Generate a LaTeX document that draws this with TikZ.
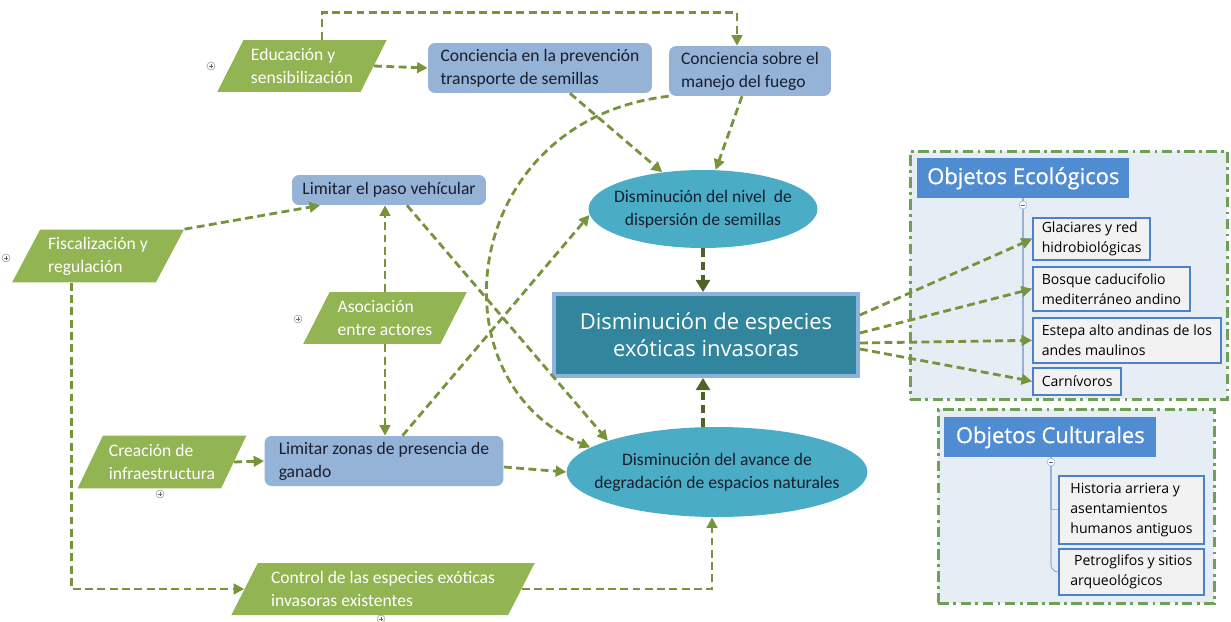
\documentclass[tikz,border=0pt]{standalone}
\usepackage{fontspec}
\setmainfont{Carlito}
\newfontfamily\opensans{Open Sans}
\newfontfamily\opensansheavy[FakeBold=0.8]{Open Sans}
\usetikzlibrary{shapes.geometric,arrows.meta,positioning,calc}

\definecolor{actgreen}{RGB}{146,180,82}
\definecolor{goalblue}{RGB}{149,179,215}
\definecolor{effteal}{RGB}{75,172,198}
\definecolor{maincol}{RGB}{49,133,156}
\definecolor{mainedge}{RGB}{142,178,222}
\definecolor{arrgreen}{RGB}{119,147,60}
\definecolor{arrdark}{RGB}{79,98,40}
\definecolor{panelfill}{RGB}{231,237,245}
\definecolor{paneledge}{RGB}{110,160,85}
\definecolor{titleblue}{RGB}{80,140,210}
\definecolor{objedge}{RGB}{75,130,200}
\definecolor{objfill}{RGB}{242,242,242}
\definecolor{treeline}{RGB}{150,178,215}
\definecolor{inktext}{RGB}{25,30,45}

% one centred line that does not widen the oval
\newcommand{\ovaltext}[1]{\makebox[0pt]{#1}}

\begin{document}
\begin{tikzpicture}[
        x=0.02cm, y=-0.02cm,
        action/.style={trapezium, trapezium left angle=60, trapezium right angle=120, trapezium stretches=true, fill=actgreen, text=white, align=left, inner sep=2pt, font=\fontsize{10}{13}\selectfont},
        goal/.style={rectangle, rounded corners=4pt, fill=goalblue, text=inktext, align=left, font=\fontsize{10}{13}\selectfont},
        effect/.style={ellipse, fill=effteal, text=inktext, align=center, inner sep=0pt, font=\fontsize{10}{13}\selectfont},
        target/.style={rectangle, fill=maincol, draw=mainedge, line width=2.2pt, text=white, align=center, font=\opensans\fontsize{12.5}{15.5}\selectfont},
        panel/.style={rectangle, fill=panelfill, draw=paneledge, line width=1.6pt, dash pattern=on 6pt off 2.5pt on 1.6pt off 2.5pt, anchor=north west},
        objtitle/.style={rectangle, fill=titleblue, text=white, anchor=north west, font=\opensansheavy\fontsize{12.5}{15}\selectfont},
        objbox/.style={rectangle, fill=objfill, draw=objedge, line width=1.1pt, anchor=north west, align=left, inner xsep=5pt, inner ysep=1.5pt, font=\opensans\fontsize{8}{11.3}\selectfont},
        toggle/.style={circle, draw=black!40, fill=white, line width=0.3pt, minimum size=4.5pt, inner sep=0pt},
        expander/.style={toggle, path picture={\draw[black!60, line width=0.3pt] ([xshift=-1.3pt]path picture bounding box.center) -- ([xshift=1.3pt]path picture bounding box.center) ([yshift=-1.3pt]path picture bounding box.center) -- ([yshift=1.3pt]path picture bounding box.center);}},
        collapser/.style={toggle, draw=treeline, path picture={\draw[black!60, line width=0.3pt] ([xshift=-1.3pt]path picture bounding box.center) -- ([xshift=1.3pt]path picture bounding box.center);}},
        tree/.style={draw=treeline, line width=0.6pt},
        arrow/.style={-{Triangle[length=6pt,width=6pt]}, draw=arrgreen, line width=1.6pt, dash pattern=on 4.5pt off 2.5pt},
        darrow/.style={-{Triangle[length=7pt,width=8pt]}, draw=arrdark, line width=2.6pt, dash pattern=on 5pt off 2.5pt}
    ]
        \useasboundingbox (0,0) rectangle (1231,622);

        % Actions
        \node[action, minimum width=3.4cm, minimum height=1.04cm] (edu) at (302,66) {Educación y\\sensibilización};
        \node[action, minimum width=3.46cm, minimum height=1.06cm] (fisc) at (98,256) {Fiscalización y\\regulación};
        \node[action, minimum width=3.3cm, minimum height=1.04cm] (asoc) at (385,318) {Asociación\\entre actores};
        \node[action, minimum width=3.4cm, minimum height=1.06cm] (crea) at (162,462) {Creación de\\infraestructura};
        \node[action, minimum width=6.08cm, minimum height=1.04cm] (ctrl) at (383,589) {Control de las especies exóticas\\invasoras existentes};

        \node[expander] (edumark) at (211,66) {};
        \node[expander] (fiscmark) at (6,258) {};
        \node[expander] (asocmark) at (298,319) {};
        \node[expander] (creamark) at (160,494) {};
        \node[expander] (ctrlmark) at (381,619) {};

        % Goals
        \node[goal, minimum width=4.48cm, minimum height=1cm] (prev) at (540,68) {Conciencia en la prevención\\transporte de semillas};
        \node[goal, minimum width=3.24cm, minimum height=0.96cm] (fuego) at (750,71) {Conciencia sobre el\\manejo del fuego};
        \node[goal, minimum width=3.88cm, minimum height=0.6cm] (paso) at (389,190) {Limitar el paso vehícular};
        \node[goal, minimum width=4.78cm, minimum height=1cm] (zonas) at (384,461) {Limitar zonas de presencia de\\ganado};

        % Effects
        \node[effect, minimum width=4.58cm, minimum height=1.56cm] (disp) at (703,209) {\ovaltext{Disminución del nivel~ de}\\\ovaltext{dispersión de semillas}};
        \node[effect, minimum width=6.02cm, minimum height=1.8cm] (deg) at (717,472) {\ovaltext{Disminución del avance de}\\\ovaltext{degradación de espacios naturales}};
        \node[target, minimum width=6.08cm, minimum height=1.64cm] (main) at (706,335) {Disminución de especies\\exóticas invasoras};

        % Objects
        \node[panel, minimum width=6.34cm, minimum height=4.96cm] (ecopanel) at (909,150) {};
        \node[panel, minimum width=5.52cm, minimum height=3.88cm] (culpanel) at (937,408) {};

        \node[objtitle, minimum width=4.24cm, minimum height=0.8cm] (ecotitle) at (917,158) {Objetos Ecológicos};
        \node[objtitle, minimum width=4.24cm, minimum height=0.8cm] (cultitle) at (944,417) {Objetos Culturales};

        \node[objbox, minimum height=0.84cm] (glac) at (1032,217) {Glaciares y red\\hidrobiológicas};
        \node[objbox, minimum height=0.88cm, below=0.1cm of glac.south west, anchor=north west] (bosq) {Bosque caducifolio\\mediterráneo andino};
        \node[objbox, minimum height=0.9cm, below=0.1cm of bosq.south west, anchor=north west] (este) {Estepa alto andinas de los\\andes maulinos};
        \node[objbox, minimum height=0.54cm, below=0.06cm of este.south west, anchor=north west] (carn) {Carnívoros};

        \node[objbox, minimum height=1.36cm, inner xsep=6.5pt] (hist) at (1058,475) {Historia arriera y\\asentamientos\\humanos antiguos};
        \node[objbox, minimum height=0.92cm, inner xsep=6.5pt, below=0.06cm of hist.south west, anchor=north west] (petro) {~Petroglifos y sitios\\arqueológicos};

        \coordinate (ecoroot) at (1023,198);
        \coordinate (culroot) at (1051,457);
        \draw[tree] (ecoroot) |- (carn.west);
        \foreach \leaf in {glac,bosq,este}
            \draw[tree] (ecoroot) |- (\leaf.west);
        \draw[tree] (culroot) |- (hist.west);
        \draw[tree, rounded corners=4pt] (culroot) |- (petro.west);
        \node[collapser] (ecomark) at (1023,205) {};
        \node[collapser] (culmark) at (1051,462) {};

        % Connections
        \draw[arrow] ([xshift=0.4cm]edu.north) -- ++(0,-27) -| ([xshift=-0.26cm]fuego.north);
        \draw[arrow] (edu.east) -- (prev.west);
        \draw[arrow] ([xshift=0.6cm]prev.south) -- (disp.138);
        \draw[arrow] ([xshift=-0.16cm]fuego.south) -- (disp.72);
        \draw[arrow] (fuego.south west) .. controls (460,120) and (430,380) .. (deg.169);
        \draw[arrow] (fisc.top right corner) -- ([xshift=-1.38cm]paso.south);
        \draw[arrow] ([xshift=-0.53cm]fisc.south) |- (ctrl.west);
        \draw[arrow] (asoc.north) -- (asoc.north |- paso.south);
        \draw[arrow] (asoc.south) -- (asoc.south |- zonas.north);
        \draw[arrow] ([xshift=0.36cm]paso.south) -- (deg.164);
        \draw[arrow] ([xshift=0.37cm]zonas.north) -- (disp.183);
        \draw[arrow] (crea.east) -- (zonas.west);
        \draw[arrow] ([yshift=-0.12cm]zonas.east) -- (deg.west);
        \draw[arrow] (ctrl.east) -| ([xshift=-0.1cm]deg.south);
        \draw[darrow] (disp.south) -- (disp.south |- main.north);
        \draw[darrow] (deg.north -| disp.south) -- (main.south -| disp.south);
        \draw[arrow] ([yshift=0.4cm]main.east) -- (glac.west);
        \draw[arrow] ([yshift=0.04cm]main.east) -- (bosq.west);
        \draw[arrow] ([yshift=-0.16cm]main.east) -- (este.west);
        \draw[arrow] ([yshift=-0.28cm]main.east) -- (carn.west);
    \end{tikzpicture}
\end{document}
